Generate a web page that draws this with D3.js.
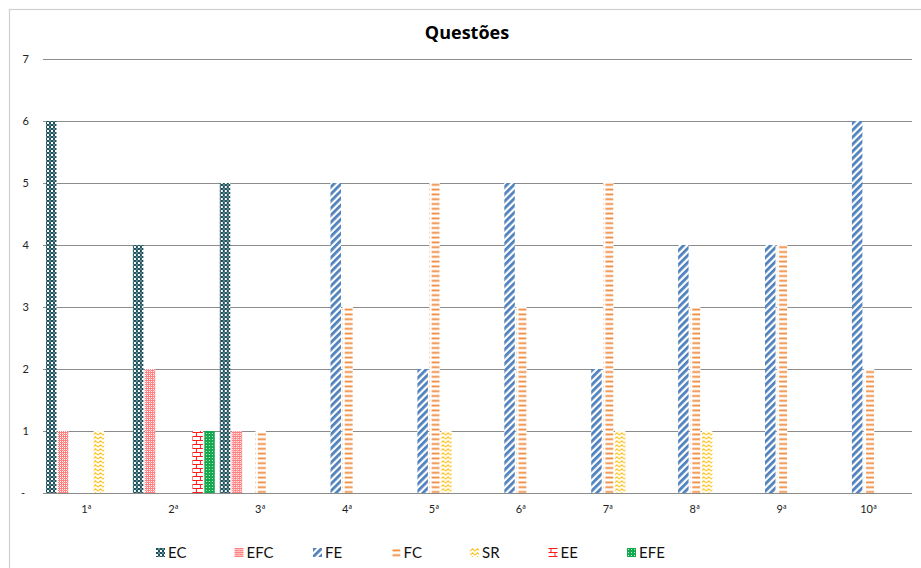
<!DOCTYPE html>
<html>
<head>
<meta charset="utf-8">
<script src="https://cdn.jsdelivr.net/npm/d3@7"></script>
<style>
  html, body { margin: 0; padding: 0; background: #fff; }
  svg { display: block; }
</style>
</head>
<body>
<svg id="chart" width="921" height="568"></svg>
<script>
// Question labels and answer categories
const categories = ["1ª", "2ª", "3ª", "4ª", "5ª", "6ª", "7ª", "8ª", "9ª", "10ª"];
const seriesNames = ["EC", "EFC", "FE", "FC", "SR", "EE", "EFE"];

// Answer counts per category, one array per series
const EC  = [6, 4, 5, 0, 0, 0, 0, 0, 0, 0];
const EFC = [1, 2, 1, 0, 0, 0, 0, 0, 0, 0];
const FE  = [0, 0, 0, 5, 2, 5, 2, 4, 4, 6];
const FC  = [0, 0, 1, 3, 5, 3, 5, 3, 4, 2];
const SR  = [1, 0, 0, 0, 1, 0, 1, 1, 0, 0];
const EE  = [0, 1, 0, 0, 0, 0, 0, 0, 0, 0];
const EFE = [0, 1, 0, 0, 0, 0, 0, 0, 0, 0];

const yTicks = [0, 1, 2, 3, 4, 5, 6, 7];
const yTickLabels = ["-", "1", "2", "3", "4", "5", "6", "7"];

const seriesValues = { EC, EFC, FE, FC, SR, EE, EFE };

const svg = d3.select("#chart");
const font = "Lato, 'Liberation Sans', sans-serif";

// ---- fill patterns ----
const defs = svg.append("defs");
function pattern(id, w, h, build, transform) {
  const p = defs.append("pattern")
    .attr("id", id)
    .attr("patternUnits", "userSpaceOnUse")
    .attr("width", w).attr("height", h);
  if (transform) p.attr("patternTransform", transform);
  p.append("rect").attr("width", w).attr("height", h).attr("fill", "#fff");
  build(p);
}

// EC: small checkerboard, dark teal
pattern("p-EC", 4, 4, p => {
  p.append("rect").attr("x", 0).attr("y", 0).attr("width", 2).attr("height", 2).attr("fill", "#1e4f5b");
  p.append("rect").attr("x", 2).attr("y", 2).attr("width", 2).attr("height", 2).attr("fill", "#1e4f5b");
  p.append("rect").attr("x", 2).attr("y", 0).attr("width", 2).attr("height", 2).attr("fill", "#5f8a92");
});

// EFC: dotted diamond, light red
pattern("p-EFC", 4, 4, p => {
  p.append("rect").attr("width", 4).attr("height", 4).attr("fill", "#ff7f7f");
  [[1, 1], [3, 3], [1, 3], [3, 1]].forEach(([cx, cy]) =>
    p.append("rect").attr("x", cx).attr("y", cy).attr("width", 1).attr("height", 1).attr("fill", "#fff"));
  p.append("rect").attr("x", 0).attr("y", 2).attr("width", 1).attr("height", 1).attr("fill", "#ffc4c4");
});

// FE: wide upward diagonal, blue
pattern("p-FE", 5, 5, p => {
  p.append("rect").attr("x", 0).attr("y", 0).attr("width", 2.8).attr("height", 5).attr("fill", "#4f81bd");
}, "rotate(45)");

// FC: narrow horizontal dashes, orange
pattern("p-FC", 10, 4.8, p => {
  p.append("rect").attr("x", 1).attr("y", 1.5).attr("width", 8).attr("height", 1.8).attr("fill", "#ee8a3c");
});

// SR: zigzag, gold
pattern("p-SR", 5, 4, p => {
  p.append("path").attr("d", "M0,3.2 L2.5,0.8 L5,3.2")
    .attr("fill", "none").attr("stroke", "#ffc21a").attr("stroke-width", 1.1);
});

// EE: horizontal brick, red
pattern("p-EE", 8, 8, p => {
  p.append("path").attr("d", "M0,0.5 H8 M0,4.5 H8 M2.5,0.5 V4.5 M6.5,4.5 V8")
    .attr("fill", "none").attr("stroke", "#ff1a1a").attr("stroke-width", 1);
});

// EFE: small grid, green
pattern("p-EFE", 3, 3, p => {
  p.append("rect").attr("width", 3).attr("height", 3).attr("fill", "#16a84e");
  p.append("rect").attr("x", 1).attr("y", 1).attr("width", 1).attr("height", 1).attr("fill", "#bfe8cc");
});

// ---- frame ----
svg.append("rect")
  .attr("x", 9.5).attr("y", 9.5)
  .attr("width", 930).attr("height", 580)
  .attr("fill", "none").attr("stroke", "#d0d0d0").attr("stroke-width", 1.2);

// ---- scales ----
const plot = { left: 43, right: 912, top: 59, bottom: 493 };
const x0 = d3.scaleBand().domain(categories).range([plot.left, plot.right]);
const x1 = d3.scaleBand().domain(seriesNames).range([3, x0.bandwidth() - 2]).paddingInner(0.12);
const y = d3.scaleLinear().domain([0, 7]).range([plot.bottom, plot.top]);

// ---- gridlines ----
svg.append("g")
  .selectAll("line")
  .data(yTicks)
  .join("line")
  .attr("x1", plot.left).attr("x2", plot.right)
  .attr("y1", d => Math.round(y(d)) + 0.5).attr("y2", d => Math.round(y(d)) + 0.5)
  .attr("stroke", "#8c8c8c").attr("stroke-width", 1.2);

// ---- y axis labels ----
const yAxis = d3.axisLeft(y)
  .tickValues(yTicks)
  .tickFormat((d, i) => yTickLabels[i])
  .tickSize(0)
  .tickPadding(0);
const gy = svg.append("g").attr("transform", `translate(${plot.left - 14},0)`).call(yAxis);
gy.select(".domain").remove();
gy.selectAll("text")
  .attr("font-family", font).attr("font-size", 11).attr("fill", "#222")
  .attr("dx", d => d === 0 ? -4 : 0);

// ---- bars ----
const groups = svg.append("g")
  .selectAll("g")
  .data(categories)
  .join("g")
  .attr("transform", d => `translate(${x0(d)},0)`);

groups.selectAll("rect")
  .data((c, i) => seriesNames.map(s => ({ s, v: seriesValues[s][i] })))
  .join("rect")
  .filter(d => d.v > 0)
  .attr("x", d => x1(d.s))
  .attr("width", x1.bandwidth())
  .attr("y", d => y(d.v))
  .attr("height", d => y(0) - y(d.v))
  .attr("fill", d => `url(#p-${d.s})`);

// ---- category labels ----
const xAxis = d3.axisBottom(x0).tickSize(0).tickPadding(0);
const gx = svg.append("g").attr("transform", `translate(0,${plot.bottom + 12})`).call(xAxis);
gx.select(".domain").remove();
gx.selectAll("text")
  .attr("font-family", font).attr("font-size", 11).attr("fill", "#222");

// ---- title ----
svg.append("text")
  .attr("x", 467).attr("y", 39)
  .attr("text-anchor", "middle")
  .attr("font-family", "'Open Sans', 'Liberation Sans', sans-serif")
  .attr("font-weight", "bold")
  .attr("font-size", 18)
  .attr("fill", "#000")
  .text("Questões");

// ---- legend ----
const legendX = d3.scalePoint().domain(seriesNames).range([156, 627]);
const legend = svg.append("g")
  .selectAll("g")
  .data(seriesNames)
  .join("g")
  .attr("transform", d => `translate(${legendX(d)},548)`);
legend.append("rect")
  .attr("x", 0).attr("y", 0).attr("width", 9).attr("height", 9)
  .attr("fill", d => `url(#p-${d})`);
legend.append("text")
  .attr("x", 12).attr("y", 10)
  .attr("font-family", font).attr("font-size", 15).attr("fill", "#111")
  .text(d => d);
</script>
</body>
</html>
